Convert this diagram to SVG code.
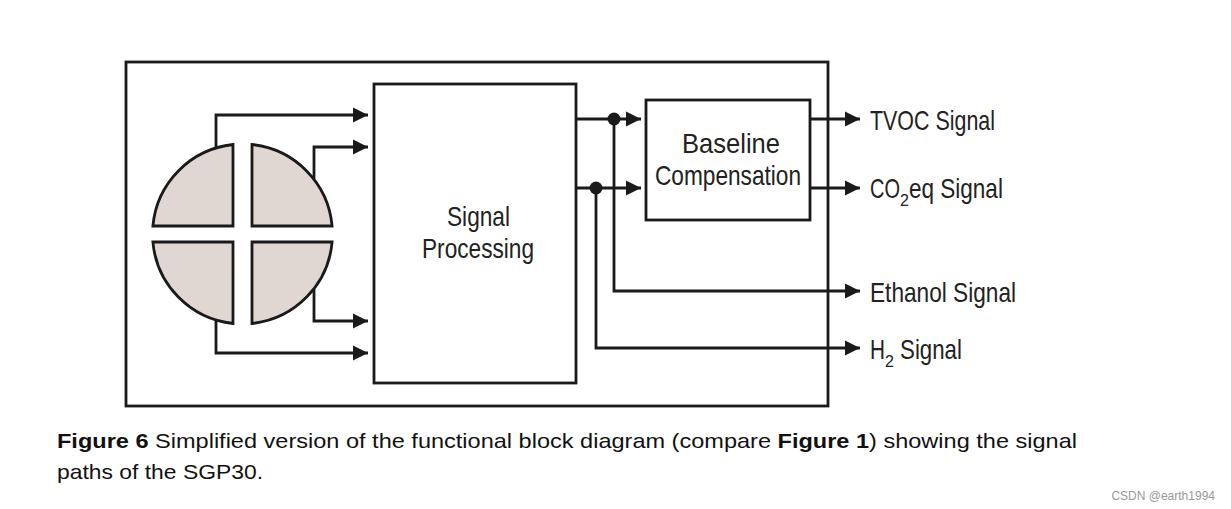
<svg xmlns="http://www.w3.org/2000/svg" width="1231" height="509" viewBox="0 0 1231 509">
<style>
.b{fill:none;stroke:#1a1a1a;stroke-width:2.8}
.q{fill:#e0d6d2;stroke:#1a1a1a;stroke-width:2.8}
.w{stroke:#1a1a1a;stroke-width:2.8;fill:none}
.t{font-family:"Liberation Sans",sans-serif;font-size:28px;fill:#222}
.c{font-family:"Liberation Sans",Arial,sans-serif;font-size:21px;fill:#111}
</style>
<defs><marker id="a" viewBox="0 0 10 10" refX="10" refY="5" markerWidth="5.5" markerHeight="5.5" orient="auto" markerUnits="strokeWidth"><path d="M0,0L10,5L0,10Z" fill="#1a1a1a"/></marker></defs>
<rect width="1231" height="509" fill="#fff"/>
<g id="frame"><rect class="b" x="126" y="62" width="702" height="344"/></g>
<g id="sensor">
<path class="q" d="M233,226L233,144.5A90,90 0 0 0 152.9,226Z"/>
<path class="q" d="M252,226L252,144.5A90,90 0 0 1 332.1,226Z"/>
<path class="q" d="M233,242L233,323.5A90,90 0 0 1 152.9,242Z"/>
<path class="q" d="M252,242L252,323.5A90,90 0 0 0 332.1,242Z"/>
</g>
<g id="signal-processing"><rect class="b" x="374" y="84" width="202" height="299"/>
<text class="t" x="447" y="226" textLength="63" lengthAdjust="spacingAndGlyphs">Signal</text>
<text class="t" x="422" y="258" textLength="112" lengthAdjust="spacingAndGlyphs">Processing</text></g>
<g id="baseline"><rect class="b" x="646" y="100" width="164" height="120"/>
<text class="t" x="682" y="153" textLength="98" lengthAdjust="spacingAndGlyphs">Baseline</text>
<text class="t" x="655" y="185" textLength="146" lengthAdjust="spacingAndGlyphs">Compensation</text></g>
<g id="connectors">
<path class="w" marker-end="url(#a)" d="M216,148V115H368"/>
<path class="w" marker-end="url(#a)" d="M314,179V147H368"/>
<path class="w" marker-end="url(#a)" d="M314,289V321H368"/>
<path class="w" marker-end="url(#a)" d="M216,320V353H368"/>
<path class="w" marker-end="url(#a)" d="M576,119H641"/>
<path class="w" marker-end="url(#a)" d="M576,188H641"/>
<path class="w" marker-end="url(#a)" d="M614,119V291H860"/>
<path class="w" marker-end="url(#a)" d="M596,188V348H860"/>
<path class="w" marker-end="url(#a)" d="M810,119H860"/>
<path class="w" marker-end="url(#a)" d="M810,188H860"/>
<circle cx="614" cy="119" r="6.5" fill="#1a1a1a"/>
<circle cx="596" cy="188" r="6.5" fill="#1a1a1a"/>
</g>
<g id="labels">
<text class="t" x="870" y="130" textLength="125" lengthAdjust="spacingAndGlyphs">TVOC Signal</text>
<text class="t" x="870" y="198"><tspan textLength="30" lengthAdjust="spacingAndGlyphs">CO</tspan><tspan font-size="16" dy="8">2</tspan><tspan dy="-8" textLength="94" lengthAdjust="spacingAndGlyphs">eq Signal</tspan></text>
<text class="t" x="870" y="302" textLength="146" lengthAdjust="spacingAndGlyphs">Ethanol Signal</text>
<text class="t" x="870" y="359"><tspan textLength="15" lengthAdjust="spacingAndGlyphs">H</tspan><tspan font-size="16" dy="8">2</tspan><tspan dy="-8" textLength="68" lengthAdjust="spacingAndGlyphs"> Signal</tspan></text>
</g>
<g id="caption">
<text class="c" x="57" y="448" textLength="1020" lengthAdjust="spacingAndGlyphs"><tspan font-weight="bold">Figure 6</tspan> Simplified version of the functional block diagram (compare <tspan font-weight="bold">Figure 1</tspan>) showing the signal</text>
<text class="c" x="57" y="479" textLength="206" lengthAdjust="spacingAndGlyphs">paths of the SGP30.</text>
<text x="1215" y="500" text-anchor="end" font-family="Liberation Sans,sans-serif" font-size="12" fill="#999">CSDN @earth1994</text>
</g>
</svg>
